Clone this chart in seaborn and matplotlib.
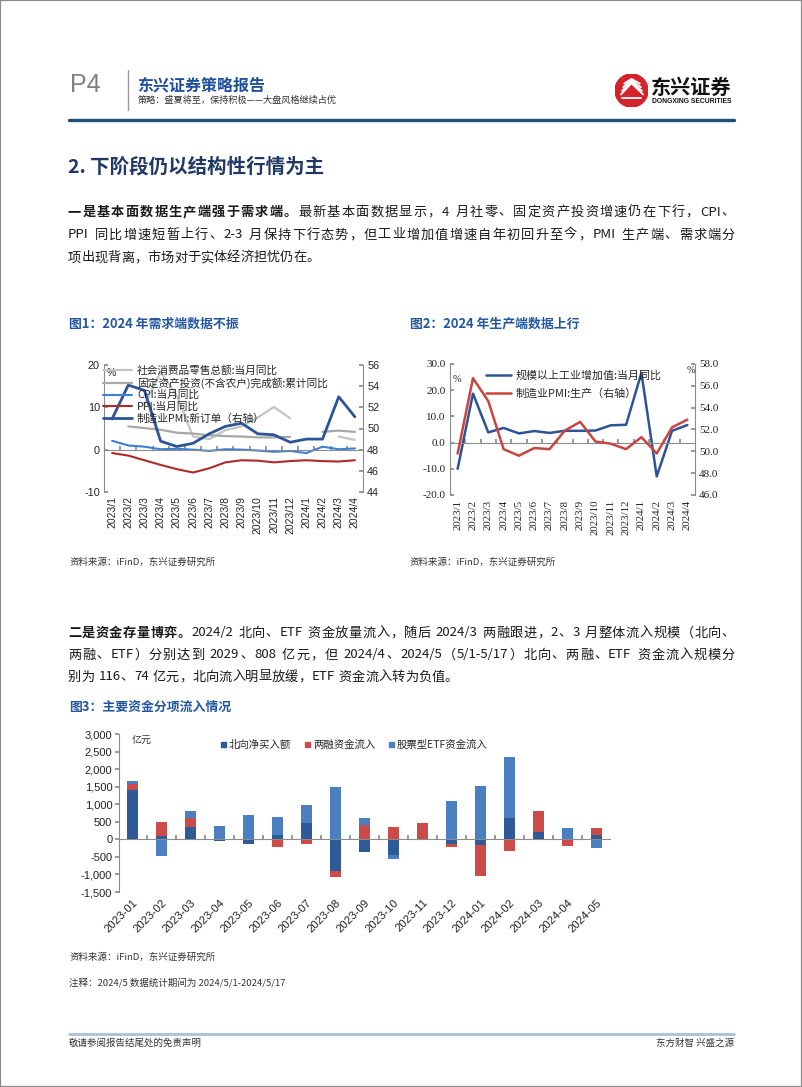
import re
import numpy as np
import matplotlib
matplotlib.use('Agg')
import matplotlib.pyplot as plt
import seaborn as sns
from matplotlib.patches import Circle, Rectangle
from matplotlib.lines import Line2D

# ---------------- data ----------------
months16 = ['2023/1', '2023/2', '2023/3', '2023/4', '2023/5', '2023/6', '2023/7', '2023/8',
            '2023/9', '2023/10', '2023/11', '2023/12', '2024/1', '2024/2', '2024/3', '2024/4']
nan = np.nan
retail_yoy = [nan, nan, 10.6, 18.4, 12.7, 3.1, 2.5, 4.6, 5.5, 7.6, 10.1, 7.4, nan, nan, 3.1, 2.3]
fai_ytd = [nan, 5.5, 5.1, 4.7, 4.0, 3.8, 3.4, 3.2, 3.1, 2.9, 2.9, 3.0, nan, 4.2, 4.5, 4.2]
cpi_yoy = [2.1, 1.0, 0.7, 0.1, 0.2, 0.0, -0.3, 0.1, 0.0, -0.2, -0.5, -0.3, -0.8, 0.7, 0.1, 0.3]
ppi_yoy = [-0.8, -1.4, -2.5, -3.6, -4.6, -5.4, -4.4, -3.0, -2.5, -2.6, -3.0, -2.7, -2.5, -2.7, -2.8, -2.5]
pmi_new_orders = [50.9, 54.1, 53.6, 48.8, 48.3, 48.6, 49.5, 50.2, 50.5, 49.5, 49.4, 48.7, 49.0, 49.0, 53.0, 51.1]
fig1_labels = ['社会消费品零售总额:当月同比', '固定资产投资(不含农户)完成额:累计同比',
               'CPI:当月同比', 'PPI:当月同比', '制造业PMI:新订单（右轴）']

ind_va_yoy = [-10.0, 18.7, 3.9, 5.6, 3.5, 4.4, 3.7, 4.5, 4.5, 4.6, 6.6, 6.8, 26.6, -12.9, 4.5, 6.7]
pmi_production = [49.8, 56.7, 54.6, 50.2, 49.6, 50.3, 50.2, 51.9, 52.7, 50.9, 50.7, 50.2, 51.3, 49.8, 52.2, 52.9]
fig2_labels = ['规模以上工业增加值:当月同比', '制造业PMI:生产（右轴）']

months17 = ['2023-01', '2023-02', '2023-03', '2023-04', '2023-05', '2023-06', '2023-07', '2023-08',
            '2023-09', '2023-10', '2023-11', '2023-12', '2024-01', '2024-02', '2024-03', '2024-04', '2024-05']
north_flow = [1413, 92, 344, -55, -124, 124, 458, -898, -372, -460, 10, -143, -162, 600, 210, 20, 130]
margin_flow = [153, 390, 258, 0, 0, -229, -134, -172, 420, 353, 468, -67, -870, -320, 590, -200, 200]
etf_flow = [86, -487, 210, 382, 697, 525, 516, 1500, 200, -86, 0, 1080, 1520, 1750, 8, 296, -256]
fig3_labels = ['北向净买入额', '两融资金流入', '股票型ETF资金流入']

# ---------------- style ----------------
sns.set_theme(style='white')
plt.rcParams['font.family'] = ['Noto Sans CJK SC', 'DejaVu Sans']
plt.rcParams['axes.unicode_minus'] = False

W, H = 802, 1087
fig = plt.figure(figsize=(W / 100, H / 100), dpi=100)
fig.patch.set_facecolor('white')


def P(x, y):
    return (x / W, 1 - y / H)


def box(x0, y0, x1, y1):
    return [x0 / W, 1 - y1 / H, (x1 - x0) / W, (y1 - y0) / H]


AX_GRAY = '#8c8c8c'
TXT = '#1a1a1a'
LAT_SANS = ['Liberation Sans', 'DejaVu Sans']
LAT_SERIF = ['Liberation Serif', 'DejaVu Serif']

# ---------------- page frame / header ----------------
fig.add_artist(Rectangle((0, 0), 1, 1, transform=fig.transFigure, fill=False,
                         edgecolor='#8a8a8a', lw=1.6))
fig.text(*P(70, 85), 'P4', fontsize=18, color='#808080', va='center', ha='left',
         family=LAT_SANS)
fig.add_artist(Line2D([128 / W, 128 / W], [1 - 70 / H, 1 - 110 / H], color='#9a9a9a', lw=1))
fig.text(*P(137, 85), '东兴证券策略报告', fontsize=11.5, fontweight='bold', color='#1f4e9a',
         va='center', ha='left')
fig.text(*P(138, 100.5), '策略：盛夏将至，保持积极——大盘风格继续占优', fontsize=6.6, color='#333333',
         va='center', ha='left')

# logo
lax = fig.add_axes(box(615, 74, 648, 107))
lax.set_xlim(0, 1)
lax.set_ylim(0, 1)
lax.axis('off')
lax.add_patch(Circle((0.5, 0.5), 0.5, color='#d5232c'))
for k in range(4):
    off = k * 0.11
    lax.add_artist(Line2D([0.18 + off * 0.3, 0.5, 0.85 - off * 0.3],
                          [0.38 + off, 0.72 + off * 0.4, 0.38 + off],
                          color='white', lw=1.3))
lax.add_artist(Line2D([0.2, 0.8], [0.28, 0.28], color='white', lw=1.3))
fig.text(*P(651, 87), '东兴证券', fontsize=14.5, fontweight='heavy', color='#111111',
         va='center', ha='left')
fig.text(*P(652, 101.5), 'DONGXING SECURITIES', fontsize=4.9, fontweight='bold', color='#111111',
         va='center', ha='left', family=LAT_SANS)
fig.add_artist(Line2D([69 / W, 734 / W], [1 - 120 / H, 1 - 120 / H], color='#1f4e79', lw=2.4))

# ---------------- body text ----------------
renderer = fig.canvas.get_renderer()
TOKEN_RE = re.compile(r'[A-Za-z0-9/\.\-]+| |.')


def draw_line(runs, y, x0=68, x1=735, justify=True, size=9.5, color=TXT):
    items = []
    for txt, bold in runs:
        for tok in TOKEN_RE.findall(txt):
            items.append((tok, bold))
    arts, widths = [], []
    for tok, bold in items:
        if tok == ' ':
            arts.append(None)
            widths.append(size * 1.389 * 0.3)
            continue
        t = fig.text(0, 0, tok, fontsize=size, fontweight='bold' if bold else 'normal',
                     color=color, va='center', ha='left')
        arts.append(t)
        widths.append(t.get_window_extent(renderer).width)
    total = sum(widths)
    gap = (x1 - x0 - total) / (len(items) - 1) if (justify and len(items) > 1) else 0
    x = x0
    for t, w in zip(arts, widths):
        if t is not None:
            t.set_position(P(x, y))
        x += w + gap


fig.text(*P(68, 167), '2. 下阶段仍以结构性行情为主', fontsize=14, fontweight='bold',
         color='#1f3864', va='center', ha='left')

draw_line([('一是基本面数据生产端强于需求端。', True),
           ('最新基本面数据显示，4 月社零、固定资产投资增速仍在下行，CPI、', False)], 212)
draw_line([('PPI 同比增速短暂上行、2-3 月保持下行态势，但工业增加值增速自年初回升至今，PMI 生产端、需求端分', False)], 235)
draw_line([('项出现背离，市场对于实体经济担忧仍在。', False)], 258, justify=False)

TITLE_BLUE = '#2457a0'
fig.text(*P(69, 324), '图1：2024 年需求端数据不振', fontsize=9.3, fontweight='bold',
         color=TITLE_BLUE, va='center', ha='left')
fig.text(*P(410, 324), '图2：2024 年生产端数据上行', fontsize=9.3, fontweight='bold',
         color=TITLE_BLUE, va='center', ha='left')

draw_line([('二是资金存量博弈。', True),
           ('2024/2 北向、ETF 资金放量流入，随后 2024/3 两融跟进，2、3 月整体流入规模（北向、', False)], 633)
draw_line([('两融、ETF）分别达到 2029、808 亿元，但 2024/4、2024/5（5/1-5/17）北向、两融、ETF 资金流入规模分', False)], 655)
draw_line([('别为 116、74 亿元，北向流入明显放缓，ETF 资金流入转为负值。', False)], 677, justify=False)

fig.text(*P(69, 707), '图3：主要资金分项流入情况', fontsize=9.3, fontweight='bold',
         color=TITLE_BLUE, va='center', ha='left')

SRC = '资料来源：iFinD，东兴证券研究所'
fig.text(*P(69, 562), SRC, fontsize=6.8, color='#333333', va='center', ha='left')
fig.text(*P(410, 562), SRC, fontsize=6.8, color='#333333', va='center', ha='left')
fig.text(*P(69, 957), SRC, fontsize=6.8, color='#333333', va='center', ha='left')
fig.text(*P(69, 983), '注释：2024/5 数据统计期间为 2024/5/1-2024/5/17', fontsize=6.8, color='#333333',
         va='center', ha='left')

fig.add_artist(Line2D([69 / W, 734 / W], [1 - 1034 / H, 1 - 1034 / H], color='#a9c0d6', lw=2))
fig.text(*P(69, 1043), '敬请参阅报告结尾处的免责声明', fontsize=6.8, color='#333333', va='center', ha='left')
fig.text(*P(734, 1043), '东方财智 兴盛之源', fontsize=6.8, color='#333333', va='center', ha='right')


def style_category_axis(ax, n, labels, label_family, size, pad):
    ax.set_xlim(-0.5, n - 0.5)
    for s in ['top', 'right']:
        ax.spines[s].set_visible(False)
    ax.spines['left'].set_color(AX_GRAY)
    ax.spines['left'].set_linewidth(0.8)
    ax.spines['bottom'].set_position(('data', 0))
    ax.spines['bottom'].set_color(AX_GRAY)
    ax.spines['bottom'].set_linewidth(0.8)
    ax.set_xticks(np.arange(0.5, n - 1, 1))
    ax.tick_params(axis='x', which='both', direction='in', length=3, color=AX_GRAY,
                   labelbottom=False, bottom=True)
    sec = ax.secondary_xaxis('bottom')
    sec.set_xticks(np.arange(n))
    sec.set_xticklabels(labels, fontsize=size, family=label_family, color='#222222')
    sec.tick_params(length=0, pad=pad)
    for s in sec.spines.values():
        s.set_visible(False)
    return sec


# ---------------- chart 1 ----------------
ax1 = fig.add_axes(box(104, 365, 363, 492))
ax1.set_facecolor('none')
x16 = np.arange(len(months16))
ax1.set_ylim(-10, 20)
ax1.set_yticks([-10, 0, 10, 20])
ax1.set_yticklabels(['-10', '0', '10', '20'], family=LAT_SANS, fontsize=7.8, color='#222222')
ax1.tick_params(axis='y', direction='in', length=3, color=AX_GRAY, pad=3)
sec1 = style_category_axis(ax1, 16, months16, LAT_SANS, 7.5, 3)
for lbl in sec1.get_xticklabels():
    lbl.set_rotation(90)

l_retail, = ax1.plot(x16, retail_yoy, color='#c4c4c4', lw=1.6)
l_fai, = ax1.plot(x16, fai_ytd, color='#a8a8a8', lw=1.6)
sns.lineplot(x=x16, y=cpi_yoy, ax=ax1, color='#3d7fd6', lw=1.5)
sns.lineplot(x=x16, y=ppi_yoy, ax=ax1, color='#b02a2a', lw=1.5)
ax1.set_xlabel('')
ax1.set_ylabel('')
ax1.text(0.012, 0.937, '%', transform=ax1.transAxes, fontsize=7.5, va='center', ha='left',
         family=LAT_SANS, color='#222222')

ax1r = ax1.twinx()
ax1r.set_facecolor('none')
sns.lineplot(x=x16, y=pmi_new_orders, ax=ax1r, color='#2c5496', lw=2.0)
ax1r.set_ylim(44, 56)
ax1r.set_yticks(np.arange(44, 57, 2))
ax1r.set_yticklabels([str(v) for v in range(44, 57, 2)], family=LAT_SANS, fontsize=7.8, color='#222222')
ax1r.set_ylabel('')
for s in ['top', 'bottom', 'left']:
    ax1r.spines[s].set_visible(False)
ax1r.spines['right'].set_color(AX_GRAY)
ax1r.spines['right'].set_linewidth(0.8)
ax1r.tick_params(axis='y', direction='in', length=3, color=AX_GRAY, pad=3)
h1 = [l_retail, l_fai, ax1.get_lines()[2], ax1.get_lines()[3], ax1r.get_lines()[0]]
ax1r.legend(h1, fig1_labels, loc='upper left', bbox_to_anchor=(-0.005, 1.0), frameon=False,
            fontsize=7.7, handlelength=2.7, handletextpad=0.5, labelspacing=0.12,
            borderpad=0, borderaxespad=0)

# ---------------- chart 2 ----------------
ax2 = fig.add_axes(box(450, 364, 695, 495))
ax2.set_facecolor('none')
ax2.set_ylim(-20, 30)
ax2.set_yticks(np.arange(-20, 31, 10))
ax2.set_yticklabels([f'{v:.1f}' for v in range(-20, 31, 10)], family=LAT_SERIF, fontsize=8,
                    color='#222222')
ax2.tick_params(axis='y', direction='in', length=3, color=AX_GRAY, pad=3)
sec2 = style_category_axis(ax2, 16, months16, LAT_SERIF, 7.8, 3.5)
for lbl in sec2.get_xticklabels():
    lbl.set_rotation(90)
sns.lineplot(x=x16, y=ind_va_yoy, ax=ax2, color='#2c5496', lw=1.8)
ax2.set_xlabel('')
ax2.set_ylabel('')
ax2.text(0.012, 0.885, '%', transform=ax2.transAxes, fontsize=7.5, va='center', ha='left',
         family=LAT_SERIF, color='#222222')

ax2r = ax2.twinx()
ax2r.set_facecolor('none')
sns.lineplot(x=x16, y=pmi_production, ax=ax2r, color='#c9453f', lw=1.8)
ax2r.set_ylim(46, 58)
ax2r.set_yticks(np.arange(46, 59, 2))
ax2r.set_yticklabels([f'{v:.1f}' for v in range(46, 59, 2)], family=LAT_SERIF, fontsize=8,
                     color='#222222')
ax2r.set_ylabel('')
for s in ['top', 'bottom', 'left']:
    ax2r.spines[s].set_visible(False)
ax2r.spines['right'].set_color(AX_GRAY)
ax2r.spines['right'].set_linewidth(0.8)
ax2r.tick_params(axis='y', direction='in', length=3, color=AX_GRAY, pad=3)
ax2r.text(0.985, 0.952, '%', transform=ax2r.transAxes, fontsize=7.5, va='center', ha='center',
          family=LAT_SERIF, color='#222222')
ax2r.legend([ax2.get_lines()[0], ax2r.get_lines()[0]], fig2_labels, loc='upper left',
            bbox_to_anchor=(0.148, 0.95), frameon=False, fontsize=7.9, handlelength=2.3,
            handletextpad=0.4, labelspacing=0.7, borderpad=0, borderaxespad=0)

# ---------------- chart 3 ----------------
ax3 = fig.add_axes(box(119.3, 734, 610, 892))
ax3.set_facecolor('none')
x17 = np.arange(len(months17))
colors3 = ['#2e5a98', '#cc4a47', '#4b7fc2']
pos_base = np.zeros(len(months17))
neg_base = np.zeros(len(months17))
for vals, col in zip([north_flow, margin_flow, etf_flow], colors3):
    v = np.asarray(vals, dtype=float)
    bottom = np.where(v >= 0, pos_base, neg_base)
    ax3.bar(x17, v, bottom=bottom, width=0.4, color=col, edgecolor='none')
    pos_base = pos_base + np.where(v >= 0, v, 0)
    neg_base = neg_base + np.where(v < 0, v, 0)
ax3.set_ylim(-1500, 3000)
yt3 = np.arange(-1500, 3001, 500)
ax3.set_yticks(yt3)
ax3.set_yticklabels([f'{v:,.0f}' for v in yt3], family=LAT_SANS, fontsize=8, color='#222222')
ax3.tick_params(axis='y', direction='out', length=3, color=AX_GRAY, pad=2, left=True)
sec3 = style_category_axis(ax3, 17, months17, LAT_SANS, 8.2, 4)
ax3.set_xlim(-0.46, 16.46)
for lbl in sec3.get_xticklabels():
    lbl.set_rotation(45)
    lbl.set_ha('right')
    lbl.set_rotation_mode('anchor')
ax3.text(0.026, 0.965, '亿元', transform=ax3.transAxes, fontsize=7.2, va='center', ha='left',
         color='#333333')
handles3 = [Line2D([], [], marker='s', linestyle='none', markersize=3.6, color=c) for c in colors3]
ax3.legend(handles3, fig3_labels, loc='upper left', bbox_to_anchor=(0.204, 0.965), ncol=3,
           frameon=False, fontsize=7.5, handlelength=0.6, handletextpad=0.3, columnspacing=1.2,
           borderpad=0, borderaxespad=0)

fig.savefig('out.png', dpi=100, facecolor='white')
